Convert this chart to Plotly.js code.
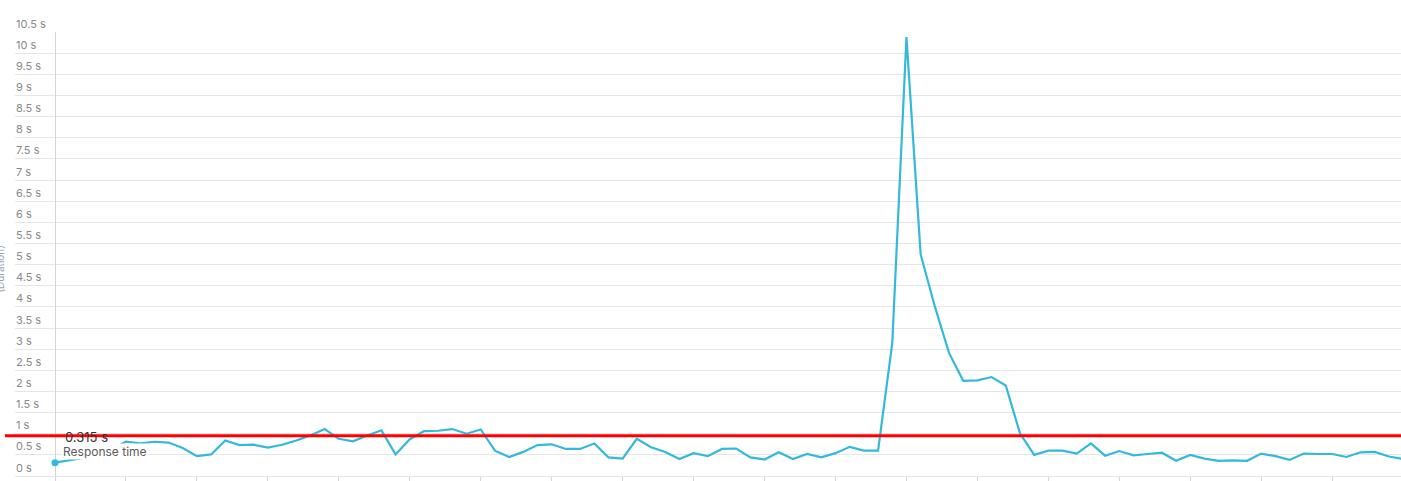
<!DOCTYPE html>
<html>
<head>
<meta charset="utf-8">
<script src="https://cdn.plot.ly/plotly-3.0.1.min.js"></script>
<style>
  html, body { margin: 0; padding: 0; background: #fff; }
  #chart { width: 1401px; height: 481px; }
</style>
</head>
<body>
<div id="chart"></div>
<script>
// sample index (one point per interval)
const samples = Array.from({length: 96}, (_, i) => i);

// response time in seconds
const responseTime = [
    0.315, 0.37, 0.43, 0.55, 0.64, 0.81, 0.77, 0.81, 0.79, 0.66,
    0.47, 0.51, 0.84, 0.73, 0.74, 0.67, 0.74, 0.84, 0.96, 1.11,
    0.88, 0.82, 0.96, 1.08, 0.51, 0.87, 1.06, 1.07, 1.11, 1.00,
    1.10, 0.60, 0.45, 0.57, 0.73, 0.75, 0.64, 0.64, 0.77, 0.44,
    0.41, 0.88, 0.68, 0.57, 0.40, 0.54, 0.47, 0.64, 0.65, 0.44,
    0.39, 0.56, 0.40, 0.52, 0.44, 0.54, 0.69, 0.60, 0.60, 3.14,
    10.38, 5.24, 4.01, 2.91, 2.25, 2.26, 2.34, 2.14, 1.01, 0.50,
    0.60, 0.60, 0.53, 0.77, 0.48, 0.59, 0.49, 0.52, 0.55, 0.36,
    0.50, 0.41, 0.36, 0.37, 0.36, 0.53, 0.47, 0.38, 0.53, 0.52,
    0.52, 0.45, 0.56, 0.57, 0.46, 0.40
];

// threshold line
const threshold = 0.95;

// y ticks
const yTickVals = [0, 0.5, 1, 1.5, 2, 2.5, 3, 3.5, 4, 4.5, 5, 5.5, 6, 6.5, 7, 7.5, 8, 8.5, 9, 9.5, 10, 10.5];
const yTickText = ['0 s', '0.5 s', '1 s', '1.5 s', '2 s', '2.5 s', '3 s', '3.5 s', '4 s', '4.5 s', '5 s',
    '5.5 s', '6 s', '6.5 s', '7 s', '7.5 s', '8 s', '8.5 s', '9 s', '9.5 s', '10 s', '10.5 s'];

// x ticks every 5 samples
const xTickVals = [0, 5, 10, 15, 20, 25, 30, 35, 40, 45, 50, 55, 60, 65, 70, 75, 80, 85, 90, 95];

const seriesName = 'Response time';
const lineColor = '#34b8dc';
const fontFamily = 'Inter, Roboto, sans-serif';

const lineTrace = {
    type: 'scatter',
    mode: 'lines',
    x: samples,
    y: responseTime,
    line: { color: lineColor, width: 2.2 },
    hoverinfo: 'skip',
    showlegend: false
};

// dot on the first point
const pointTrace = {
    type: 'scatter',
    mode: 'markers',
    x: [samples[0]],
    y: [responseTime[0]],
    marker: { color: lineColor, size: 7 },
    cliponaxis: false,
    hoverinfo: 'skip',
    showlegend: false
};

// y tick labels sit above the grid lines, so use annotations
const tickAnnotations = yTickVals.map((v, i) => ({
    xref: 'paper', yref: 'y',
    x: 0, y: v,
    xanchor: 'left', yanchor: 'bottom',
    xshift: -1, yshift: -0.5,
    text: yTickText[i],
    showarrow: false,
    font: { family: fontFamily, size: 11, color: '#888' }
}));

const layout = {
    width: 1401,
    height: 481,
    margin: { l: 15, r: 0, t: 32, b: 5, autoexpand: false },
    paper_bgcolor: '#fff',
    plot_bgcolor: '#fff',
    showlegend: false,
    font: { family: fontFamily },
    xaxis: {
        range: [-2.82, 94.85],
        showgrid: false,
        zeroline: true,
        zerolinecolor: '#d4d4d4',
        zerolinewidth: 1,
        tickmode: 'array',
        tickvals: xTickVals,
        ticks: 'outside',
        ticklen: 5,
        tickcolor: '#d4d4d4',
        showticklabels: false,
        fixedrange: true
    },
    yaxis: {
        range: [0, 10.5],
        tickmode: 'array',
        tickvals: yTickVals,
        showticklabels: false,
        showgrid: true,
        gridcolor: '#e6e6e6',
        gridwidth: 1,
        zeroline: true,
        zerolinecolor: '#e6e6e6',
        fixedrange: true
    },
    shapes: [{
        type: 'line',
        xref: 'paper', yref: 'y',
        x0: -10 / 1386, x1: 1,
        y0: threshold, y1: threshold,
        line: { color: '#ff0000', width: 3 },
        layer: 'above'
    }],
    annotations: tickAnnotations.concat([
        {
            // axis title, half cut off at the left edge
            xref: 'paper', yref: 'paper',
            x: 0, y: 0.465,
            xanchor: 'center',
            xshift: -15,
            textangle: -90,
            text: '(Duration)',
            showarrow: false,
            font: { family: fontFamily, size: 10, color: '#90a4b2' }
        },
        {
            xref: 'x', yref: 'y',
            x: samples[0], y: responseTime[0],
            xanchor: 'left', yanchor: 'middle',
            xshift: 8, yshift: 26,
            text: responseTime[0] + ' s',
            showarrow: false,
            font: { family: fontFamily, size: 13, color: '#333' }
        },
        {
            xref: 'x', yref: 'y',
            x: samples[0], y: responseTime[0],
            xanchor: 'left', yanchor: 'middle',
            xshift: 7, yshift: 11,
            text: seriesName,
            showarrow: false,
            bgcolor: '#fff',
            borderpad: 0,
            font: { family: fontFamily, size: 12, color: '#5a5a5a' }
        }
    ])
};

Plotly.newPlot('chart', [lineTrace, pointTrace], layout, { displayModeBar: false, staticPlot: true });
</script>
</body>
</html>
